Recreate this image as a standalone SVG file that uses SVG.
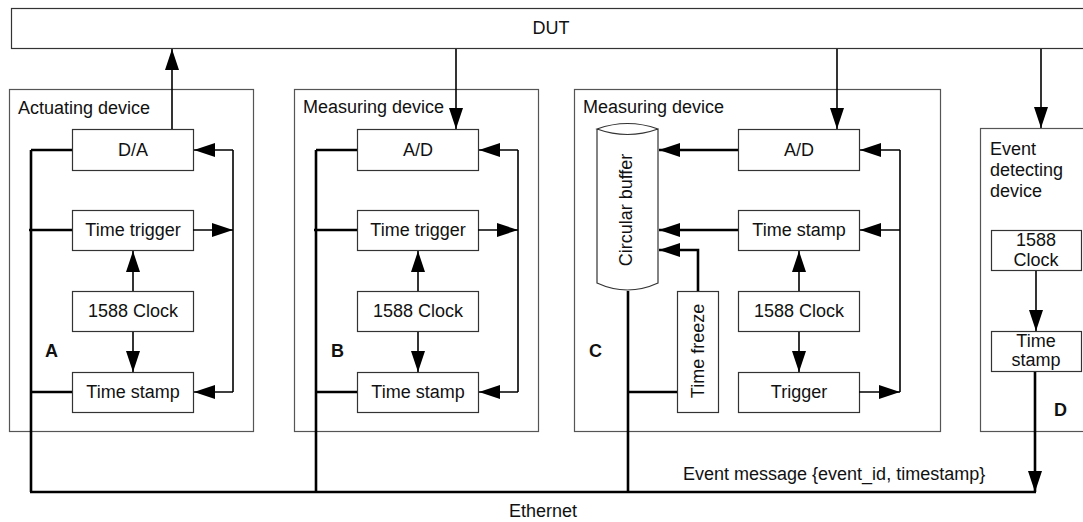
<svg xmlns="http://www.w3.org/2000/svg" width="1083" height="522" viewBox="0 0 1083 522">
<defs>
<marker id="ah" markerUnits="userSpaceOnUse" markerWidth="22" markerHeight="15" refX="21" refY="7" orient="auto" viewBox="0 0 22 15">
<path d="M0,0 L21,7 L0,14 z" fill="#000"/>
</marker>
<style>
text{font-family:"Liberation Sans",Arial,sans-serif;font-size:18px;fill:#111}
.c{text-anchor:middle}
.b{font-weight:bold}
.dev{fill:#fff;stroke:#555;stroke-width:1.2}
.box{fill:#fff;stroke:#333;stroke-width:1.2}
.ln{fill:none;stroke:#000;stroke-width:1.6}
.th{fill:none;stroke:#000;stroke-width:2.6}
.ar{marker-end:url(#ah)}
</style>
</defs>
<rect width="1083" height="522" fill="#fff"/>

<g id="dut">
<rect class="box" x="11.5" y="8.5" width="1080" height="40"/>
<text class="c" x="551" y="34">DUT</text>
</g>

<g id="devA">
<rect class="dev" x="9.5" y="89.5" width="244" height="342"/>
<text x="18" y="114">Actuating device</text>
<text class="b" x="45" y="357">A</text>
</g>
<g id="A-da"><rect class="box" x="72.5" y="129.5" width="121" height="41"/><text class="c" x="133" y="156">D/A</text></g>
<g id="A-tt"><rect class="box" x="72.5" y="210.5" width="121" height="40"/><text class="c" x="133" y="236">Time trigger</text></g>
<g id="A-clk"><rect class="box" x="72.5" y="291.5" width="121" height="40"/><text class="c" x="133" y="317">1588 Clock</text></g>
<g id="A-ts"><rect class="box" x="72.5" y="372.5" width="121" height="40"/><text class="c" x="133" y="398">Time stamp</text></g>

<g id="devB">
<rect class="dev" x="294.5" y="89.5" width="244" height="342"/>
<text x="303" y="113">Measuring device</text>
<text class="b" x="331" y="357">B</text>
</g>
<g id="B-ad"><rect class="box" x="357.5" y="129.5" width="121" height="41"/><text class="c" x="418" y="156">A/D</text></g>
<g id="B-tt"><rect class="box" x="357.5" y="210.5" width="121" height="40"/><text class="c" x="418" y="236">Time trigger</text></g>
<g id="B-clk"><rect class="box" x="357.5" y="291.5" width="121" height="40"/><text class="c" x="418" y="317">1588 Clock</text></g>
<g id="B-ts"><rect class="box" x="357.5" y="372.5" width="121" height="40"/><text class="c" x="418" y="398">Time stamp</text></g>

<g id="devC">
<rect class="dev" x="574.5" y="89.5" width="366" height="342"/>
<text x="583" y="113">Measuring device</text>
<text class="b" x="589" y="357">C</text>
</g>
<g id="C-buf">
<path class="box" d="M597,129 L597,283 Q627.5,297 658,283 L658,129 Q627.5,140 597,129 Q627.5,118 658,129"/>
<text class="c" transform="translate(632,210) rotate(-90)" x="0" y="0">Circular buffer</text>
</g>
<g id="C-tf"><rect class="box" x="677.5" y="291.5" width="41" height="121"/><text class="c" transform="translate(704,351) rotate(-90)" x="0" y="0">Time freeze</text></g>
<g id="C-ad"><rect class="box" x="738.5" y="129.5" width="121" height="41"/><text class="c" x="799" y="156">A/D</text></g>
<g id="C-ts"><rect class="box" x="738.5" y="210.5" width="121" height="40"/><text class="c" x="799" y="236">Time stamp</text></g>
<g id="C-clk"><rect class="box" x="738.5" y="291.5" width="121" height="40"/><text class="c" x="799" y="317">1588 Clock</text></g>
<g id="C-trg"><rect class="box" x="738.5" y="372.5" width="121" height="40"/><text class="c" x="799" y="398">Trigger</text></g>

<g id="devD">
<rect class="dev" x="980.5" y="128.5" width="120" height="303"/>
<text x="990" y="155">Event</text>
<text x="990" y="176">detecting</text>
<text x="990" y="197">device</text>
<text class="b" x="1054" y="416">D</text>
</g>
<g id="D-clk"><rect class="box" x="991.5" y="230.5" width="90" height="40"/><text class="c" x="1036" y="246">1588</text><text class="c" x="1036" y="266">Clock</text></g>
<g id="D-ts"><rect class="box" x="991.5" y="331.5" width="90" height="40"/><text class="c" x="1036" y="347">Time</text><text class="c" x="1036" y="366">stamp</text></g>

<g id="connectors">
<path class="ln ar" d="M172,129 L172,49"/>
<path class="ln" d="M233,150 L233,392"/>
<path class="ln ar" d="M233,150 L194,150"/>
<path class="ln ar" d="M193,230 L233,230"/>
<path class="ln ar" d="M233,392 L194,392"/>
<path class="ln ar" d="M133,291 L133,251"/>
<path class="ln ar" d="M133,332 L133,372"/>
<path class="th" d="M31,150 L31,492 M31,150 L72,150 M29,230 L72,230 M31,392 L72,392"/>
<path class="ln ar" d="M456,49 L456,129"/>
<path class="ln" d="M518,150 L518,392"/>
<path class="ln ar" d="M518,150 L479,150"/>
<path class="ln ar" d="M478,230 L518,230"/>
<path class="ln ar" d="M518,392 L479,392"/>
<path class="ln ar" d="M418,291 L418,251"/>
<path class="ln ar" d="M418,332 L418,372"/>
<path class="th" d="M316,150 L316,492 M316,150 L357,150 M314,230 L357,230 M316,392 L357,392"/>
<path class="ln ar" d="M837,49 L837,129"/>
<path class="ln" d="M900,150 L900,392"/>
<path class="ln ar" d="M900,150 L860,150"/>
<path class="ln ar" d="M900,230 L860,230"/>
<path class="ln ar" d="M859,392 L900,392"/>
<path class="ln ar" d="M799,291 L799,251"/>
<path class="ln ar" d="M799,332 L799,372"/>
<path class="th ar" d="M738,150 L659,150"/>
<path class="th ar" d="M738,230 L659,230"/>
<path class="th ar" d="M698,291 L698,250 L659,250"/>
<path class="th" d="M628,291 L628,492 M628,392 L677,392"/>
<path class="ln ar" d="M1041,49 L1041,128"/>
<path class="ln ar" d="M1036,271 L1036,331"/>
<path class="th ar" d="M1035,372 L1035,492"/>
<path class="th" d="M30,492 L1036,492"/>
</g>
<text x="683" y="480">Event message {event_id, timestamp}</text>
<text class="c" x="543" y="517">Ethernet</text>
</svg>
